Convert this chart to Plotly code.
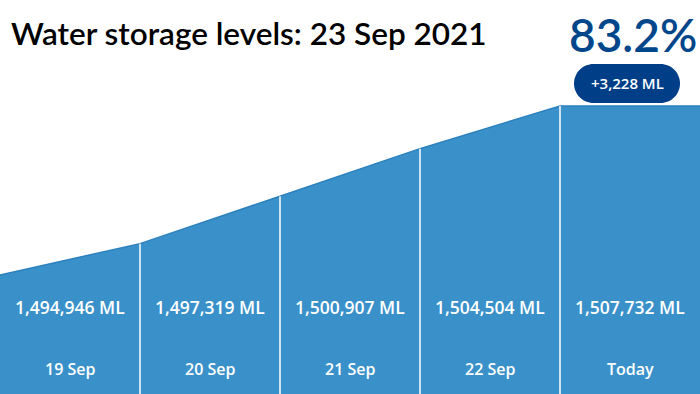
import plotly.graph_objects as go

title = "Water storage levels: 23 Sep 2021"
pct_label = "83.2%"
change_label = "+3,228 ML"
days = ["19 Sep", "20 Sep", "21 Sep", "22 Sep", "Today"]
levels = [1494946, 1497319, 1500907, 1504504, 1507732]

W, H = 700, 394
FILL = "#3a91c9"
EDGE = "#2b80be"
NAVY = "#003f88"

y_min, y_max = 1485944, 1515750

xs = list(range(len(levels))) + [len(levels)]
ys = levels + [levels[-1]]

fig = go.Figure()
fig.add_trace(go.Scatter(
    x=xs + xs[::-1], y=ys + [y_min] * len(xs), fill="toself", mode="none",
    fillcolor=FILL, hoverinfo="skip", showlegend=False))
fig.add_trace(go.Scatter(
    x=xs, y=ys, mode="lines", line=dict(color=EDGE, width=1.5),
    hoverinfo="skip", showlegend=False))

# white dividers
for i in range(1, len(levels)):
    fig.add_trace(go.Scatter(
        x=[i, i], y=[y_min, levels[i]], mode="lines",
        line=dict(color="white", width=1.5), hoverinfo="skip", showlegend=False))

font_family = "Open Sans"
for i, (d, v) in enumerate(zip(days, levels)):
    fig.add_annotation(x=i + 0.5, y=1 - 307 / H, xref="x", yref="paper",
                       xanchor="center", yanchor="middle",
                       text=f"{v:,} ML", showarrow=False,
                       font=dict(family=font_family, size=17.5, color="white", weight=600))
    fig.add_annotation(x=i + 0.5, y=1 - 369 / H, xref="x", yref="paper",
                       xanchor="center", yanchor="middle",
                       text=d, showarrow=False,
                       font=dict(family=font_family, size=16, color="white", weight=600))

fig.add_annotation(x=9 / W, y=1 - 33 / H, xref="paper", yref="paper",
                   xanchor="left", yanchor="middle", text=title, showarrow=False,
                   font=dict(family="Lato", size=31.5, color="black", weight=600))
fig.add_annotation(x=699 / W, y=1 - 35 / H, xref="paper", yref="paper",
                   xanchor="right", yanchor="middle", text=pct_label, showarrow=False,
                   font=dict(family="Lato", size=46, color="#00468b", weight=600))

# pill
x0, x1, yt, yb = 574, 680, 64, 103
r = (yb - yt) / 2
k = 0.5523 * r
def px(x):
    return x / W
def py(y):
    return 1 - y / H
pts = [
    f"M {px(x0 + r)},{py(yt)}",
    f"L {px(x1 - r)},{py(yt)}",
    f"C {px(x1 - r + k)},{py(yt)} {px(x1)},{py(yt + r - k)} {px(x1)},{py(yt + r)}",
    f"C {px(x1)},{py(yt + r + k)} {px(x1 - r + k)},{py(yb)} {px(x1 - r)},{py(yb)}",
    f"L {px(x0 + r)},{py(yb)}",
    f"C {px(x0 + r - k)},{py(yb)} {px(x0)},{py(yb - r + k)} {px(x0)},{py(yb - r)}",
    f"C {px(x0)},{py(yt + r - k)} {px(x0 + r - k)},{py(yt)} {px(x0 + r)},{py(yt)}",
    "Z",
]
fig.add_shape(type="path", path=" ".join(pts), xref="paper", yref="paper",
              fillcolor=NAVY, line=dict(width=0), layer="below")
fig.add_annotation(x=(x0 + x1) / 2 / W, y=1 - (yt + yb) / 2 / H, xref="paper", yref="paper",
                   xanchor="center", yanchor="middle",
                   text=change_label, showarrow=False,
                   font=dict(family=font_family, size=15, color="white", weight=600))

fig.update_layout(
    width=W, height=H, margin=dict(l=0, r=0, t=0, b=0),
    paper_bgcolor="white", plot_bgcolor="rgba(0,0,0,0)",
    xaxis=dict(range=[0, len(levels)], visible=False, fixedrange=True),
    yaxis=dict(range=[y_min, y_max], visible=False, fixedrange=True),
)
fig.write_html("out.html", config={"displayModeBar": False},
               post_script="document.body.style.margin='0';document.body.style.overflow='hidden';")
